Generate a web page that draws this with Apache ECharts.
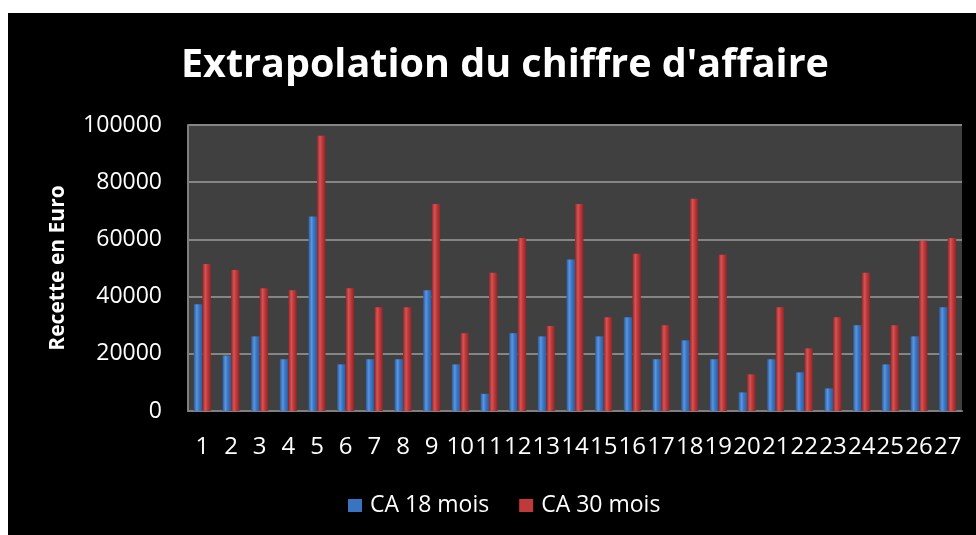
<!DOCTYPE html>
<html>
<head>
<meta charset="utf-8">
<script src="https://cdn.jsdelivr.net/npm/echarts@6/dist/echarts.min.js"></script>
<style>
html,body{margin:0;padding:0;background:#ffffff;}
#chart{width:976px;height:535px;}
</style>
</head>
<body>
<div id="chart"></div>
<script>
const categories = ['1','2','3','4','5','6','7','8','9','10','11','12','13','14','15','16','17','18','19','20','21','22','23','24','25','26','27'];
const ca18 = [37300,19400,26100,18100,68000,16300,18100,18100,42200,16300,6000,27200,26100,53000,26100,32800,18100,24700,18100,6500,18100,13500,7900,30000,16300,26100,36300];
const ca30 = [51400,49300,42900,42200,96200,42900,36300,36300,72400,27200,48300,60500,29700,72400,32800,55000,30000,74200,54600,12800,36300,21900,32800,48300,30000,59500,60500];
const yTicks = [0,20000,40000,60000,80000,100000];

const FONT = '"Open Sans", sans-serif';
function grad(dark, mid, light) {
  return new echarts.graphic.LinearGradient(0,0,1,0,[
    {offset:0,color:dark},{offset:0.35,color:light},{offset:0.6,color:mid},{offset:1,color:dark}
  ]);
}
const chart = echarts.init(document.getElementById('chart'), null, {renderer:'canvas'});
chart.setOption({
  backgroundColor:'#ffffff',
  animation:false,
  graphic:[{type:'rect', z:-10, shape:{x:8,y:13,width:968,height:522}, style:{fill:'#000000'}}],
  title:{
    text:"Extrapolation du chiffre d'affaire",
    left:176, top:41,
    textStyle:{color:'#ffffff', fontFamily:FONT, fontWeight:'bold', fontSize:39.5}
  },
  legend:{
    top:489, left:343,
    icon:'rect',
    itemWidth:14, itemHeight:13, itemGap:30,
    textStyle:{color:'#ffffff', fontFamily:FONT, fontSize:23, padding:[0,0,0,3]},
    data:[
      {name:'CA 18 mois', itemStyle:{color:'#3a74c0'}},
      {name:'CA 30 mois', itemStyle:{color:'#c0393b'}}
    ]
  },
  grid:{left:188, right:14, top:125, bottom:124, show:true, backgroundColor:'#404040', borderWidth:0},
  xAxis:{
    type:'category', data:categories,
    axisLine:{show:true, lineStyle:{color:'#7f7f7f', width:2}},
    axisTick:{show:false},
    axisLabel:{color:'#ffffff', fontFamily:FONT, fontSize:24, margin:24, interval:0}
  },
  yAxis:{
    type:'value', min:yTicks[0], max:yTicks[yTicks.length-1], interval:20000,
    name:'Recette en Euro', nameLocation:'middle', nameGap:119, nameRotate:90,
    nameTextStyle:{color:'#ffffff', fontFamily:FONT, fontWeight:'bold', fontSize:21},
    axisLine:{show:true, lineStyle:{color:'#7f7f7f', width:2}},
    axisTick:{show:false},
    splitLine:{lineStyle:{color:'#858585', width:2}},
    axisLabel:{color:'#ffffff', fontFamily:FONT, fontSize:23, margin:26, formatter:function(v){return String(v);}}
  },
  series:[
    {name:'CA 18 mois', type:'bar', data:ca18, barWidth:8.5, barGap:'0%',
     itemStyle:{color:grad('#2a5c9c','#3a78c8','#5b95dd')}},
    {name:'CA 30 mois', type:'bar', data:ca30, barWidth:8.5, barGap:'0%',
     itemStyle:{color:grad('#8e2526','#c0393b','#d55455')}}
  ]
});
</script>
</body>
</html>
